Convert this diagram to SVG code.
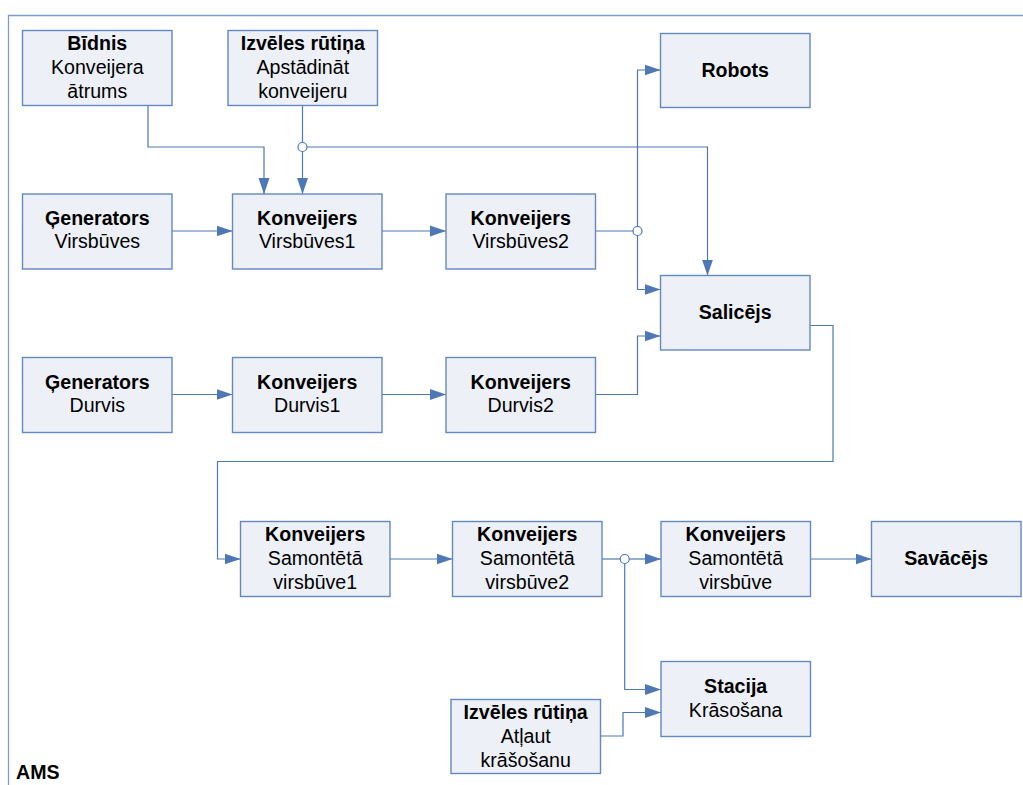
<svg xmlns="http://www.w3.org/2000/svg" width="1023" height="785" viewBox="0 0 1023 785">
<style>
.box{fill:#EDF0F6;stroke:#6389C2;stroke-width:1.4}
.t{font-family:"Liberation Sans",Arial,sans-serif;font-size:19.6px;fill:#000;text-anchor:middle}
.b{font-weight:bold}
.c{fill:none;stroke:#4D78B5;stroke-width:1.2}
.j{fill:#fff;stroke:#4D78B5;stroke-width:1.2}
.frame{fill:none;stroke:#7E9DCB;stroke-width:1.3}
</style>
<defs>
<marker id="arr" markerUnits="userSpaceOnUse" markerWidth="17" markerHeight="12" viewBox="0 0 17 12" refX="16" refY="6" orient="auto">
<path d="M0,0.5 L16,6 L0,11.5 Z" fill="#4D78B5"/>
</marker>
</defs>
<rect width="1023" height="785" fill="#fff"/>
<path class="frame" d="M8.5,785 V15.5 H1023"/>
<text class="t b" x="16" y="779" style="text-anchor:start">AMS</text>

<g id="connectors">
<path class="c" d="M148,105.5 V147 H264 V194" marker-end="url(#arr)"/>
<path class="c" d="M302.5,105.5 V194" marker-end="url(#arr)"/>
<path class="c" d="M307,147 H707.5 V275.5" marker-end="url(#arr)"/>
<circle class="j" cx="302.5" cy="147" r="4.5"/>
<path class="c" d="M172,231 H232.5" marker-end="url(#arr)"/>
<path class="c" d="M382,231 H446" marker-end="url(#arr)"/>
<path class="c" d="M595.5,231 H633" />
<path class="c" d="M637.5,226.5 V70 H660.5" marker-end="url(#arr)"/>
<path class="c" d="M637.5,235.5 V289.5 H660.5" marker-end="url(#arr)"/>
<circle class="j" cx="637.5" cy="231" r="4.5"/>
<path class="c" d="M172,394.5 H232.5" marker-end="url(#arr)"/>
<path class="c" d="M382,394.5 H446" marker-end="url(#arr)"/>
<path class="c" d="M595.5,394.5 H637.5 V336 H660.5" marker-end="url(#arr)"/>
<path class="c" d="M810,325.5 H833 V461.5 H217.5 V559 H240.5" marker-end="url(#arr)"/>
<path class="c" d="M390,559 H452.5" marker-end="url(#arr)"/>
<path class="c" d="M602,559 H620.2"/>
<path class="c" d="M629.2,559 H661" marker-end="url(#arr)"/>
<path class="c" d="M624.7,563.5 V689.5 H661" marker-end="url(#arr)"/>
<circle class="j" cx="624.7" cy="559" r="4.5"/>
<path class="c" d="M600.5,736 H623 V712.5 H661" marker-end="url(#arr)"/>
<path class="c" d="M810.5,559 H871.5" marker-end="url(#arr)"/>
</g>

<g id="bidnis">
<rect class="box" x="22.5" y="30.5" width="149.5" height="75"/>
<text class="t b" x="97.3" y="50">Bīdnis</text>
<text class="t" x="97.3" y="74">Konveijera</text>
<text class="t" x="97.3" y="97.7">ātrums</text>
</g>
<g id="izveles1">
<rect class="box" x="228" y="30.5" width="149.5" height="75"/>
<text class="t b" x="302.8" y="50">Izvēles rūtiņa</text>
<text class="t" x="302.8" y="74">Apstādināt</text>
<text class="t" x="302.8" y="97.7">konveijeru</text>
</g>
<g id="robots">
<rect class="box" x="660.5" y="33.5" width="149.5" height="74"/>
<text class="t b" x="735.2" y="76.5">Robots</text>
</g>
<g id="genV">
<rect class="box" x="22.5" y="194" width="149.5" height="75"/>
<text class="t b" x="97.3" y="225">Ģenerators</text>
<text class="t" x="97.3" y="248.3">Virsbūves</text>
</g>
<g id="kv1">
<rect class="box" x="232.5" y="194" width="149.5" height="75"/>
<text class="t b" x="307.2" y="225">Konveijers</text>
<text class="t" x="307.2" y="248.3">Virsbūves1</text>
</g>
<g id="kv2">
<rect class="box" x="446" y="194" width="149.5" height="75"/>
<text class="t b" x="520.7" y="225">Konveijers</text>
<text class="t" x="520.7" y="248.3">Virsbūves2</text>
</g>
<g id="salicejs">
<rect class="box" x="660.5" y="275.5" width="149.5" height="74.5"/>
<text class="t b" x="735.2" y="319">Salicējs</text>
</g>
<g id="genD">
<rect class="box" x="22.5" y="357.5" width="149.5" height="75"/>
<text class="t b" x="97.3" y="388.5">Ģenerators</text>
<text class="t" x="97.3" y="411.8">Durvis</text>
</g>
<g id="kd1">
<rect class="box" x="232.5" y="357.5" width="149.5" height="75"/>
<text class="t b" x="307.2" y="388.5">Konveijers</text>
<text class="t" x="307.2" y="411.8">Durvis1</text>
</g>
<g id="kd2">
<rect class="box" x="446" y="357.5" width="149.5" height="75"/>
<text class="t b" x="520.7" y="388.5">Konveijers</text>
<text class="t" x="520.7" y="411.8">Durvis2</text>
</g>
<g id="sv1">
<rect class="box" x="240.5" y="521.5" width="149.5" height="75"/>
<text class="t b" x="315.2" y="541">Konveijers</text>
<text class="t" x="315.2" y="565">Samontētā</text>
<text class="t" x="315.2" y="588.7">virsbūve1</text>
</g>
<g id="sv2">
<rect class="box" x="452.5" y="521.5" width="149.5" height="75"/>
<text class="t b" x="527.2" y="541">Konveijers</text>
<text class="t" x="527.2" y="565">Samontētā</text>
<text class="t" x="527.2" y="588.7">virsbūve2</text>
</g>
<g id="sv">
<rect class="box" x="661" y="521.5" width="149.5" height="75"/>
<text class="t b" x="735.7" y="541">Konveijers</text>
<text class="t" x="735.7" y="565">Samontētā</text>
<text class="t" x="735.7" y="588.7">virsbūve</text>
</g>
<g id="savacejs">
<rect class="box" x="871.5" y="521.5" width="149.5" height="75"/>
<text class="t b" x="946.2" y="565">Savācējs</text>
</g>
<g id="stacija">
<rect class="box" x="661" y="661.5" width="149.5" height="75"/>
<text class="t b" x="735.7" y="692.7">Stacija</text>
<text class="t" x="735.7" y="716.5">Krāsošana</text>
</g>
<g id="izveles2">
<rect class="box" x="451" y="699.5" width="149.5" height="74"/>
<text class="t b" x="525.7" y="719">Izvēles rūtiņa</text>
<text class="t" x="525.7" y="742.8">Atļaut</text>
<text class="t" x="525.7" y="766.5">krāšošanu</text>
</g>
</svg>
